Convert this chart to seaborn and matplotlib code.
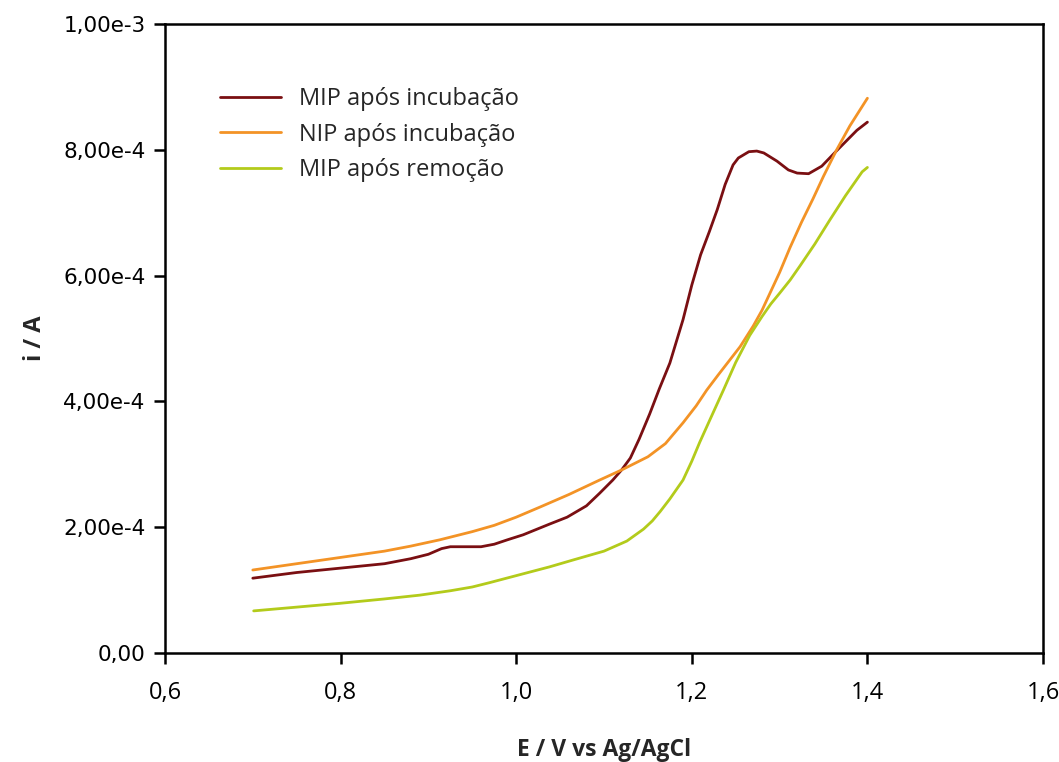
import numpy as np
import pandas as pd
import matplotlib
matplotlib.use("Agg")
import matplotlib.pyplot as plt
import seaborn as sns

# Linear sweep voltammograms (potential in V, current in units of 1e-4 A)
mip_inc_E = [0.700, 0.750, 0.800, 0.850, 0.880, 0.900, 0.915, 0.925, 0.945, 0.960,
             0.975, 0.990, 1.008, 1.038, 1.058, 1.080, 1.095, 1.110, 1.120, 1.130,
             1.140, 1.152, 1.163, 1.175, 1.190, 1.200, 1.210, 1.220, 1.229, 1.238,
             1.247, 1.253, 1.265, 1.274, 1.282, 1.297, 1.310, 1.320, 1.333, 1.348,
             1.366, 1.388, 1.400]
mip_inc_i = [1.19, 1.28, 1.35, 1.42, 1.50, 1.57, 1.66, 1.69, 1.69, 1.69,
             1.73, 1.80, 1.88, 2.05, 2.16, 2.34, 2.54, 2.75, 2.91, 3.10,
             3.40, 3.80, 4.20, 4.61, 5.30, 5.85, 6.33, 6.70, 7.05, 7.45,
             7.76, 7.87, 7.97, 7.98, 7.95, 7.82, 7.68, 7.63, 7.62, 7.74,
             8.00, 8.31, 8.44]

nip_inc_E = [0.700, 0.750, 0.800, 0.850, 0.880, 0.913, 0.950, 0.975, 1.000, 1.027,
             1.060, 1.095, 1.120, 1.150, 1.170, 1.190, 1.205, 1.217, 1.230, 1.240,
             1.255, 1.270, 1.280, 1.290, 1.300, 1.312, 1.325, 1.338, 1.350, 1.365,
             1.380, 1.390, 1.400]
nip_inc_i = [1.32, 1.42, 1.52, 1.62, 1.70, 1.80, 1.93, 2.03, 2.16, 2.32,
             2.52, 2.75, 2.91, 3.12, 3.33, 3.66, 3.93, 4.18, 4.42, 4.60,
             4.87, 5.20, 5.45, 5.75, 6.05, 6.45, 6.85, 7.22, 7.58, 8.00,
             8.38, 8.60, 8.82]

mip_rem_E = [0.701, 0.750, 0.799, 0.850, 0.890, 0.925, 0.950, 0.970, 0.989, 1.038,
             1.065, 1.100, 1.126, 1.145, 1.155, 1.164, 1.175, 1.190, 1.200, 1.209,
             1.221, 1.236, 1.250, 1.266, 1.280, 1.290, 1.300, 1.312, 1.323, 1.340,
             1.357, 1.375, 1.394, 1.400]
mip_rem_i = [0.67, 0.73, 0.79, 0.86, 0.92, 0.99, 1.05, 1.12, 1.19, 1.37,
             1.48, 1.62, 1.78, 1.97, 2.10, 2.25, 2.45, 2.75, 3.05, 3.35,
             3.72, 4.18, 4.62, 5.05, 5.35, 5.55, 5.72, 5.93, 6.15, 6.50,
             6.88, 7.27, 7.65, 7.72]

series_names = ["MIP após incubação", "NIP após incubação", "MIP após remoção"]
series_colors = ["#7a0f12", "#f39326", "#b3cb1b"]

x_ticks = [0.6, 0.8, 1.0, 1.2, 1.4, 1.6]
x_tick_labels = ["0,6", "0,8", "1,0", "1,2", "1,4", "1,6"]
y_ticks = [0.0, 2e-4, 4e-4, 6e-4, 8e-4, 1e-3]
y_tick_labels = ["0,00", "2,00e-4", "4,00e-4", "6,00e-4", "8,00e-4", "1,00e-3"]

frames = []
for name, E, i in zip(series_names,
                      [mip_inc_E, nip_inc_E, mip_rem_E],
                      [mip_inc_i, nip_inc_i, mip_rem_i]):
    frames.append(pd.DataFrame({"E": E, "i": np.array(i) * 1e-4, "curva": name}))
df = pd.concat(frames, ignore_index=True)

sns.set_style("ticks")
plt.rcParams["font.family"] = ["Open Sans", "DejaVu Sans"]

fig = plt.figure(figsize=(10.59, 7.62), dpi=100)
ax = fig.add_axes([0.1558, 0.143, 0.8291, 0.8255])

sns.lineplot(data=df, x="E", y="i", hue="curva", hue_order=series_names,
             palette=dict(zip(series_names, series_colors)),
             sort=False, estimator=None, linewidth=2.0, ax=ax)
for ln in ax.get_lines():
    ln.set_solid_joinstyle("round")
    ln.set_solid_capstyle("round")

ax.set_xlim(0.6, 1.6)
ax.set_ylim(0.0, 1e-3)
ax.set_xticks(x_ticks)
ax.set_xticklabels(x_tick_labels, fontsize=17, fontfamily="Open Sans")
ax.set_yticks(y_ticks)
ax.set_yticklabels(y_tick_labels, fontsize=15.5, fontfamily="DejaVu Sans")

for side in ["left", "right", "top", "bottom"]:
    ax.spines[side].set_visible(True)
    ax.spines[side].set_linewidth(1.8)
    ax.spines[side].set_color("black")
ax.tick_params(axis="both", direction="out", length=8, width=1.8, colors="black",
               labelcolor="black")
ax.tick_params(axis="x", pad=12)
ax.tick_params(axis="y", pad=6)

ax.set_xlabel("E / V vs Ag/AgCl", fontsize=16.5, fontweight="bold", labelpad=24)
ax.set_ylabel("i / A", fontsize=17, fontweight="bold", labelpad=12)

leg = ax.legend(loc="upper left", bbox_to_anchor=(0.038, 0.934), frameon=False,
                fontsize=17, handlelength=2.6, handletextpad=0.75,
                labelspacing=0.5)
for h in leg.get_lines():
    h.set_linewidth(2.0)

fig.savefig("out.png", dpi=100, facecolor="white")
